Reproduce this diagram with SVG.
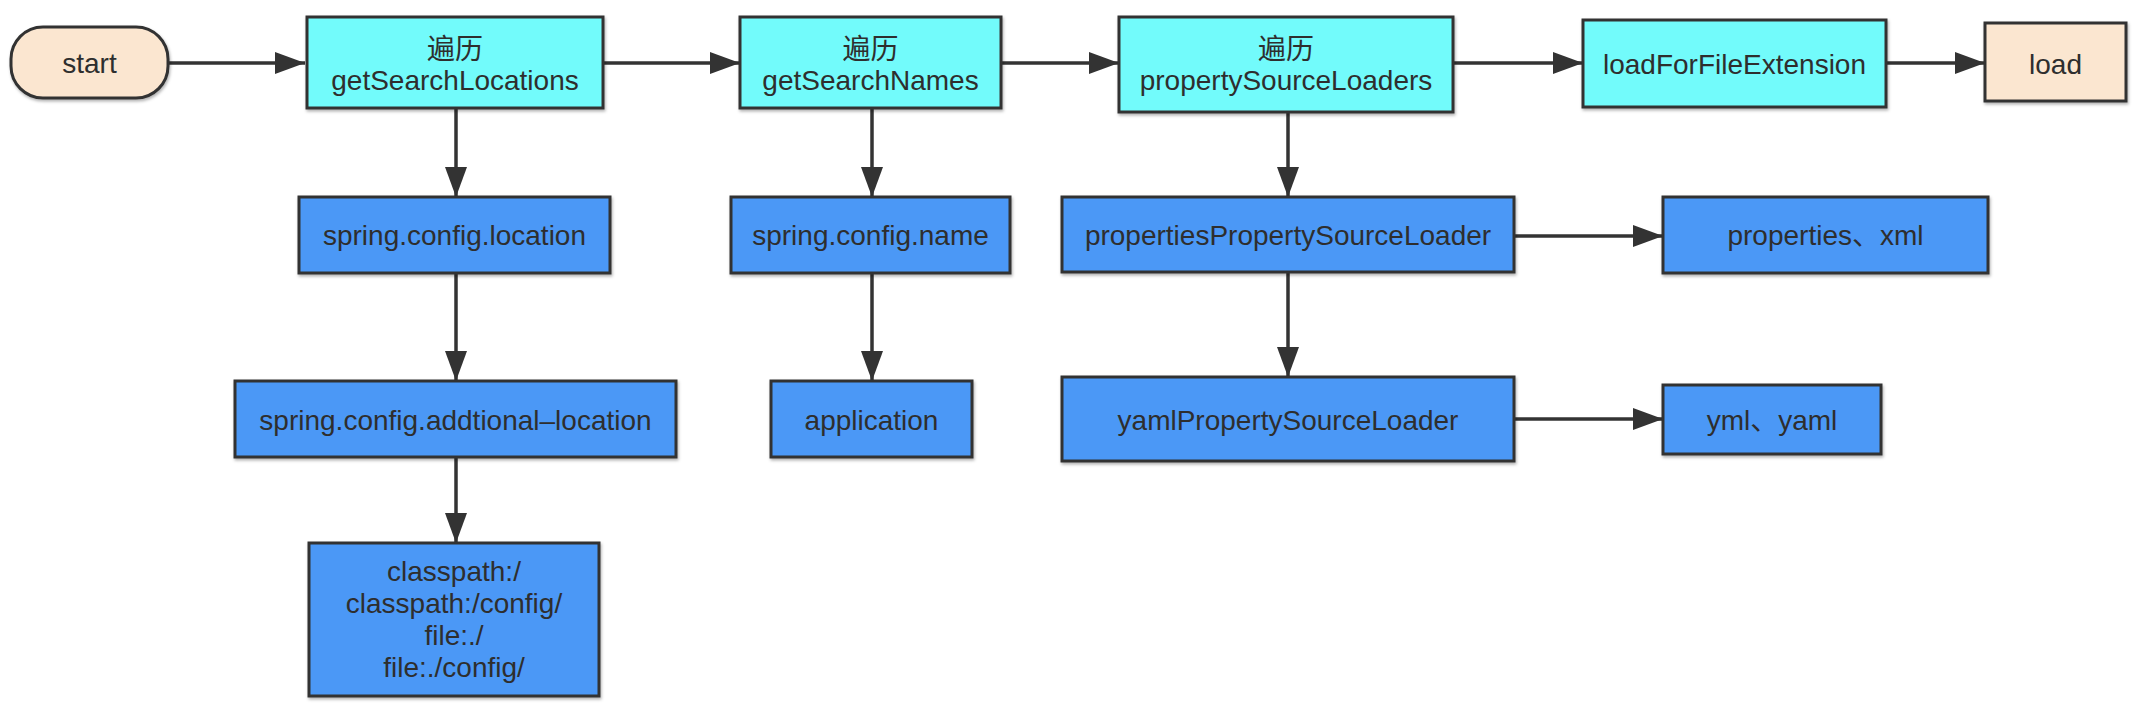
<svg xmlns="http://www.w3.org/2000/svg" width="2138" height="718" viewBox="0 0 2138 718">
<style>
.box{stroke:#333333;stroke-width:3;filter:url(#sh)}
.cyan{fill:#72FBFB}
.blue{fill:#4B98F6}
.beige{fill:#FBE6D0}
text{font-family:"Liberation Sans","Noto Sans CJK SC",sans-serif;font-size:28px;fill:#2E2E2E;text-anchor:middle}
.edge{stroke:#333333;stroke-width:3.5;fill:none;marker-end:url(#arr)}
</style>
<defs>
<filter id="sh" x="-5%" y="-10%" width="110%" height="125%">
<feDropShadow dx="1" dy="2" stdDeviation="1.5" flood-color="#000000" flood-opacity="0.3"/>
</filter>
<marker id="arr" markerUnits="userSpaceOnUse" markerWidth="32" markerHeight="24" refX="30" refY="11" orient="auto">
<path d="M0,0 L30,11 L0,22 Z" fill="#333333"/>
</marker>
</defs>
<rect width="2138" height="718" fill="#ffffff"/>
<g id="connectors">
<line class="edge" x1="168" y1="63" x2="305" y2="63"/>
<line class="edge" x1="603" y1="63" x2="740" y2="63"/>
<line class="edge" x1="1001" y1="63" x2="1119" y2="63"/>
<line class="edge" x1="1453" y1="63" x2="1583" y2="63"/>
<line class="edge" x1="1886" y1="63" x2="1985" y2="63"/>
<line class="edge" x1="456" y1="108" x2="456" y2="197"/>
<line class="edge" x1="456" y1="273" x2="456" y2="381"/>
<line class="edge" x1="456" y1="457" x2="456" y2="543"/>
<line class="edge" x1="872" y1="108" x2="872" y2="197"/>
<line class="edge" x1="872" y1="273" x2="872" y2="381"/>
<line class="edge" x1="1288" y1="112" x2="1288" y2="197"/>
<line class="edge" x1="1288" y1="272" x2="1288" y2="377"/>
<line class="edge" x1="1514" y1="236" x2="1663" y2="236"/>
<line class="edge" x1="1514" y1="419" x2="1663" y2="419"/>
</g>
<g id="start">
<rect class="box beige" x="11" y="27" width="157" height="71" rx="32" ry="32"/>
<text x="89.5" y="73">start</text>
</g>
<g id="getSearchLocations">
<rect class="box cyan" x="307" y="17" width="296" height="91"/>
<text x="455" y="59">遍历</text>
<text x="455" y="90">getSearchLocations</text>
</g>
<g id="getSearchNames">
<rect class="box cyan" x="740" y="17" width="261" height="91"/>
<text x="870.5" y="59">遍历</text>
<text x="870.5" y="90">getSearchNames</text>
</g>
<g id="propertySourceLoaders">
<rect class="box cyan" x="1119" y="17" width="334" height="95"/>
<text x="1286" y="59">遍历</text>
<text x="1286" y="90">propertySourceLoaders</text>
</g>
<g id="loadForFileExtension">
<rect class="box cyan" x="1583" y="20" width="303" height="87"/>
<text x="1734.5" y="74">loadForFileExtension</text>
</g>
<g id="load">
<rect class="box beige" x="1985" y="23" width="141" height="78"/>
<text x="2055.5" y="74">load</text>
</g>
<g id="springConfigLocation">
<rect class="box blue" x="299" y="197" width="311" height="76"/>
<text x="454.5" y="245">spring.config.location</text>
</g>
<g id="springConfigName">
<rect class="box blue" x="731" y="197" width="279" height="76"/>
<text x="870.5" y="245">spring.config.name</text>
</g>
<g id="propertiesPropertySourceLoader">
<rect class="box blue" x="1062" y="197" width="452" height="75"/>
<text x="1288" y="245">propertiesPropertySourceLoader</text>
</g>
<g id="propertiesXml">
<rect class="box blue" x="1663" y="197" width="325" height="76"/>
<text x="1825.5" y="245">properties、xml</text>
</g>
<g id="springConfigAddtionalLocation">
<rect class="box blue" x="235" y="381" width="441" height="76"/>
<text x="455.5" y="430">spring.config.addtional–location</text>
</g>
<g id="application">
<rect class="box blue" x="771" y="381" width="201" height="76"/>
<text x="871.5" y="430">application</text>
</g>
<g id="yamlPropertySourceLoader">
<rect class="box blue" x="1062" y="377" width="452" height="84"/>
<text x="1288" y="430">yamlPropertySourceLoader</text>
</g>
<g id="ymlYaml">
<rect class="box blue" x="1663" y="385" width="218" height="69"/>
<text x="1772" y="430">yml、yaml</text>
</g>
<g id="classpath">
<rect class="box blue" x="309" y="543" width="290" height="153"/>
<text x="454" y="581">classpath:/</text>
<text x="454" y="613">classpath:/config/</text>
<text x="454" y="645">file:./</text>
<text x="454" y="677">file:./config/</text>
</g>
</svg>
